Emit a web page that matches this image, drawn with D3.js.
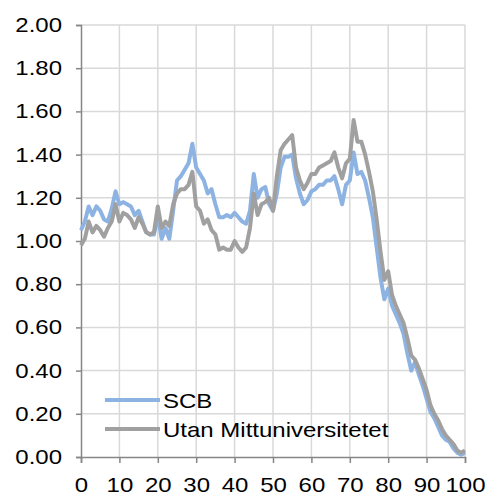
<!DOCTYPE html>
<html>
<head>
<meta charset="utf-8">
<script src="https://cdn.jsdelivr.net/npm/d3@7"></script>
<style>
  body { margin: 0; background: #fff; }
  text { font-family: "Liberation Sans", Arial, sans-serif; }
</style>
</head>
<body>
<svg id="chart" width="488" height="496"></svg>
<script>
// values, x = 0..100
var xValues = d3.range(0, 101);
var scbValues = [
  1.05, 1.09, 1.16, 1.12, 1.16, 1.14, 1.10, 1.09, 1.15, 1.23,
  1.17, 1.18, 1.17, 1.16, 1.12, 1.14, 1.09, 1.04, 1.03, 1.03,
  1.12, 1.01, 1.06, 1.01, 1.14, 1.28, 1.30, 1.33, 1.36, 1.45,
  1.34, 1.31, 1.28, 1.22, 1.24, 1.17, 1.11, 1.11, 1.12, 1.11,
  1.13, 1.11, 1.09, 1.08, 1.14, 1.31, 1.20, 1.24, 1.25, 1.17,
  1.14, 1.22, 1.34, 1.39, 1.39, 1.40, 1.29, 1.22, 1.17, 1.19,
  1.23, 1.24, 1.26, 1.26, 1.28, 1.28, 1.30, 1.24, 1.17, 1.26,
  1.28, 1.41, 1.31, 1.32, 1.28, 1.20, 1.11, 0.97, 0.83, 0.73,
  0.78, 0.70, 0.66, 0.62, 0.57, 0.48, 0.40, 0.44, 0.38, 0.33,
  0.27, 0.21, 0.18, 0.14, 0.10, 0.08, 0.07, 0.04, 0.02, 0.01,
  0.02
];
var utanValues = [
  0.98, 1.01, 1.09, 1.04, 1.07, 1.05, 1.02, 1.06, 1.09, 1.17,
  1.09, 1.13, 1.12, 1.10, 1.06, 1.11, 1.08, 1.04, 1.03, 1.04,
  1.16, 1.06, 1.09, 1.07, 1.17, 1.22, 1.24, 1.24, 1.26, 1.32,
  1.16, 1.14, 1.08, 1.10, 1.05, 1.03, 0.96, 0.97, 0.96, 0.96,
  1.00, 0.97, 0.95, 0.97, 1.06, 1.22, 1.12, 1.17, 1.18, 1.20,
  1.14, 1.30, 1.42, 1.45, 1.47, 1.49, 1.34, 1.28, 1.24, 1.27,
  1.31, 1.31, 1.34, 1.35, 1.36, 1.37, 1.41, 1.34, 1.29, 1.36,
  1.38, 1.56, 1.46, 1.46, 1.40, 1.32, 1.23, 1.10, 0.95, 0.82,
  0.86, 0.75, 0.70, 0.66, 0.62, 0.55, 0.47, 0.45, 0.41, 0.36,
  0.31, 0.24, 0.20, 0.17, 0.13, 0.10, 0.08, 0.06, 0.03, 0.02,
  0.03
];
var seriesNames = ["SCB", "Utan Mittuniversitetet"];
var seriesColors = ["#8db3e2", "#a0a0a0"];
var xTicks = d3.range(0, 101, 10);
var yTicks = d3.range(0, 11).map(function(i) { return i * 0.2; });

var svg = d3.select("#chart");
var margin = {left: 81, right: 23, top: 25, bottom: 39};
var width = 488, height = 496;
var fontSize = 20, stretch = 1.2; // the reference text is wider than tall

var x = d3.scaleLinear().domain([0, 100]).range([margin.left, width - margin.right]);
var y = d3.scaleLinear().domain([0, 2]).range([height - margin.bottom, margin.top]);

// grid
svg.append("g").selectAll("line.h").data(yTicks.slice(1)).enter().append("line")
  .attr("x1", x(0)).attr("x2", x(100))
  .attr("y1", function(d) { return y(d); }).attr("y2", function(d) { return y(d); })
  .attr("stroke", "#d9d9d9").attr("stroke-width", 1.5);
svg.append("g").selectAll("line.v").data(xTicks.slice(1)).enter().append("line")
  .attr("x1", function(d) { return x(d); }).attr("x2", function(d) { return x(d); })
  .attr("y1", y(0)).attr("y2", y(2))
  .attr("stroke", "#d9d9d9").attr("stroke-width", 1.5);

// axes
var yAxis = svg.append("g").attr("transform", "translate(" + x(0) + ",0)")
  .call(d3.axisLeft(y).tickValues(yTicks).tickFormat(d3.format(".2f")).tickSizeOuter(0).tickSize(5));
var xAxis = svg.append("g").attr("transform", "translate(0," + y(0) + ")")
  .call(d3.axisBottom(x).tickValues(xTicks).tickSizeOuter(0).tickSize(6).tickPadding(15));
[xAxis, yAxis].forEach(function(a) {
  a.select(".domain").attr("stroke", "#868686").attr("stroke-width", 1.5);
  a.selectAll(".tick line").attr("stroke", "#868686").attr("stroke-width", 1.5);
  a.selectAll(".tick text").attr("fill", "#000").style("font-size", fontSize + "px")
    .style("font-family", "'Liberation Sans', Arial, sans-serif")
    .attr("transform", "scale(" + stretch + ",1)");
});
yAxis.selectAll(".tick text").attr("x", -19 / stretch);

// lines
var line = d3.line()
  .x(function(d, i) { return x(xValues[i]); })
  .y(function(d) { return y(d); });
[scbValues, utanValues].forEach(function(vals, i) {
  svg.append("path").datum(vals)
    .attr("fill", "none").attr("stroke", seriesColors[i])
    .attr("stroke-width", 4).attr("stroke-linejoin", "round")
    .attr("d", line);
});

// legend
var legend = svg.append("g");
seriesNames.forEach(function(name, i) {
  var ly = 400 + i * 29;
  legend.append("line").attr("x1", 105).attr("x2", 160).attr("y1", ly).attr("y2", ly)
    .attr("stroke", seriesColors[i]).attr("stroke-width", 4);
  legend.append("g").attr("transform", "translate(163," + (ly + 1) + ")")
    .append("text").attr("dy", "0.35em").attr("transform", "scale(" + stretch + ",1)")
    .style("font-size", fontSize + "px").attr("fill", "#000").text(name);
});
</script>
</body>
</html>
